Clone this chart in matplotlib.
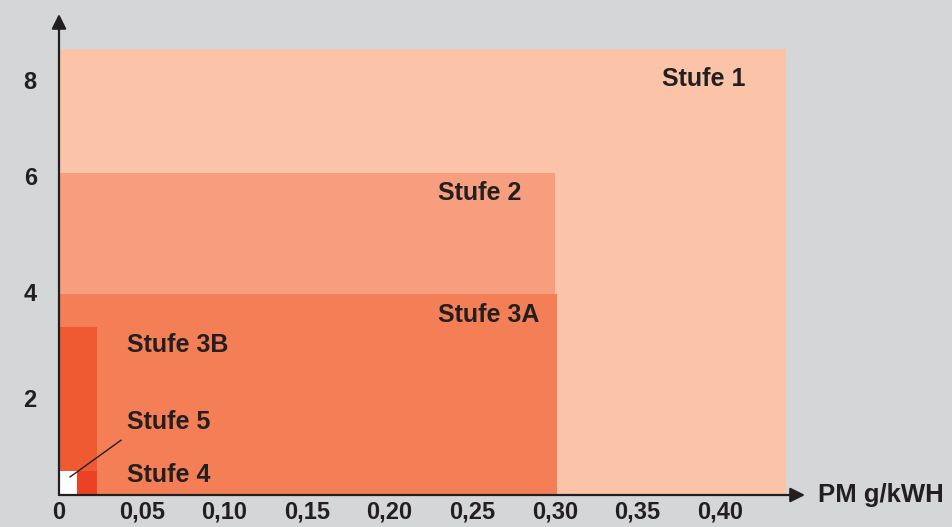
import matplotlib.pyplot as plt
from matplotlib.patches import Rectangle

plt.rcParams['font.family'] = ['Liberation Sans', 'DejaVu Sans']

# Stufen: PM limit (x, g/kWh) and NOx limit (y), drawn back to front
stufen = ['Stufe 1', 'Stufe 2', 'Stufe 3A', 'Stufe 3B', 'Stufe 4', 'Stufe 5']
pm_limit = [0.44, 0.30, 0.301, 0.023, 0.023, 0.011]
nox_limit = [8.88, 6.4, 4.0, 3.34, 0.47, 0.47]
farben = ['#fbc4a8', '#f69e7d', '#f47e55', '#ef5a32', '#ec4124', '#ffffff']

# label positions (x, y) in data units
label_pos = {
    'Stufe 1': (0.365, 8.28),
    'Stufe 2': (0.229, 6.01),
    'Stufe 3A': (0.229, 3.58),
    'Stufe 3B': (0.041, 2.99),
    'Stufe 5': (0.041, 1.45),
    'Stufe 4': (0.041, 0.40),
}

x_ticks = [0, 0.05, 0.10, 0.15, 0.20, 0.25, 0.30, 0.35, 0.40]
x_labels = ['0', '0,05', '0,10', '0,15', '0,20', '0,25', '0,30', '0,35', '0,40']
y_ticks = [1.93, 4.04, 6.35, 8.26]
y_labels = ['2', '4', '6', '8']

bg = '#d5d6d8'
ink = '#231f20'

fig = plt.figure(figsize=(9.53, 5.27), dpi=100, facecolor=bg)
ax = fig.add_axes([59 / 953, 32 / 527, 746 / 953, 481 / 527])
ax.set_facecolor(bg)
ax.set_xlim(0, 746 / 1653)
ax.set_ylim(0, 481 / 50.25)

for pm, nox, c in zip(pm_limit, nox_limit, farben):
    ax.add_patch(Rectangle((0, 0), pm, nox, facecolor=c, edgecolor='none'))

for name in stufen:
    x, y = label_pos[name]
    ax.text(x, y, name, fontsize=18, fontweight='bold', color=ink,
            ha='left', va='center')

# leader line to Stufe 5
ax.plot([0.0067, 0.0375], [0.36, 1.09], color=ink, lw=1.0)

for s in ax.spines.values():
    s.set_visible(False)

# axes arrows
ax.annotate('', xy=(1, 0), xytext=(0, 0), xycoords='axes fraction',
            arrowprops=dict(arrowstyle='-|>', color=ink, lw=1.6,
                            mutation_scale=22, shrinkA=0, shrinkB=0))
ax.annotate('', xy=(0, 1), xytext=(0, 0), xycoords='axes fraction',
            arrowprops=dict(arrowstyle='-|>', color=ink, lw=1.6,
                            mutation_scale=22, shrinkA=0, shrinkB=0))

ax.set_xticks(x_ticks, x_labels)
ax.set_yticks(y_ticks, y_labels)
ax.tick_params(length=0, labelsize=17, labelcolor=ink)
ax.tick_params(axis='x', pad=4)
ax.tick_params(axis='y', pad=16)
for lab in ax.get_xticklabels() + ax.get_yticklabels():
    lab.set_fontweight('bold')

fig.text(818 / 953, 1 - 495 / 527, 'PM g/kWH', fontsize=18.5, fontweight='bold',
         color=ink, ha='left', va='center')

fig.savefig('out.png', dpi=100, facecolor=bg)
